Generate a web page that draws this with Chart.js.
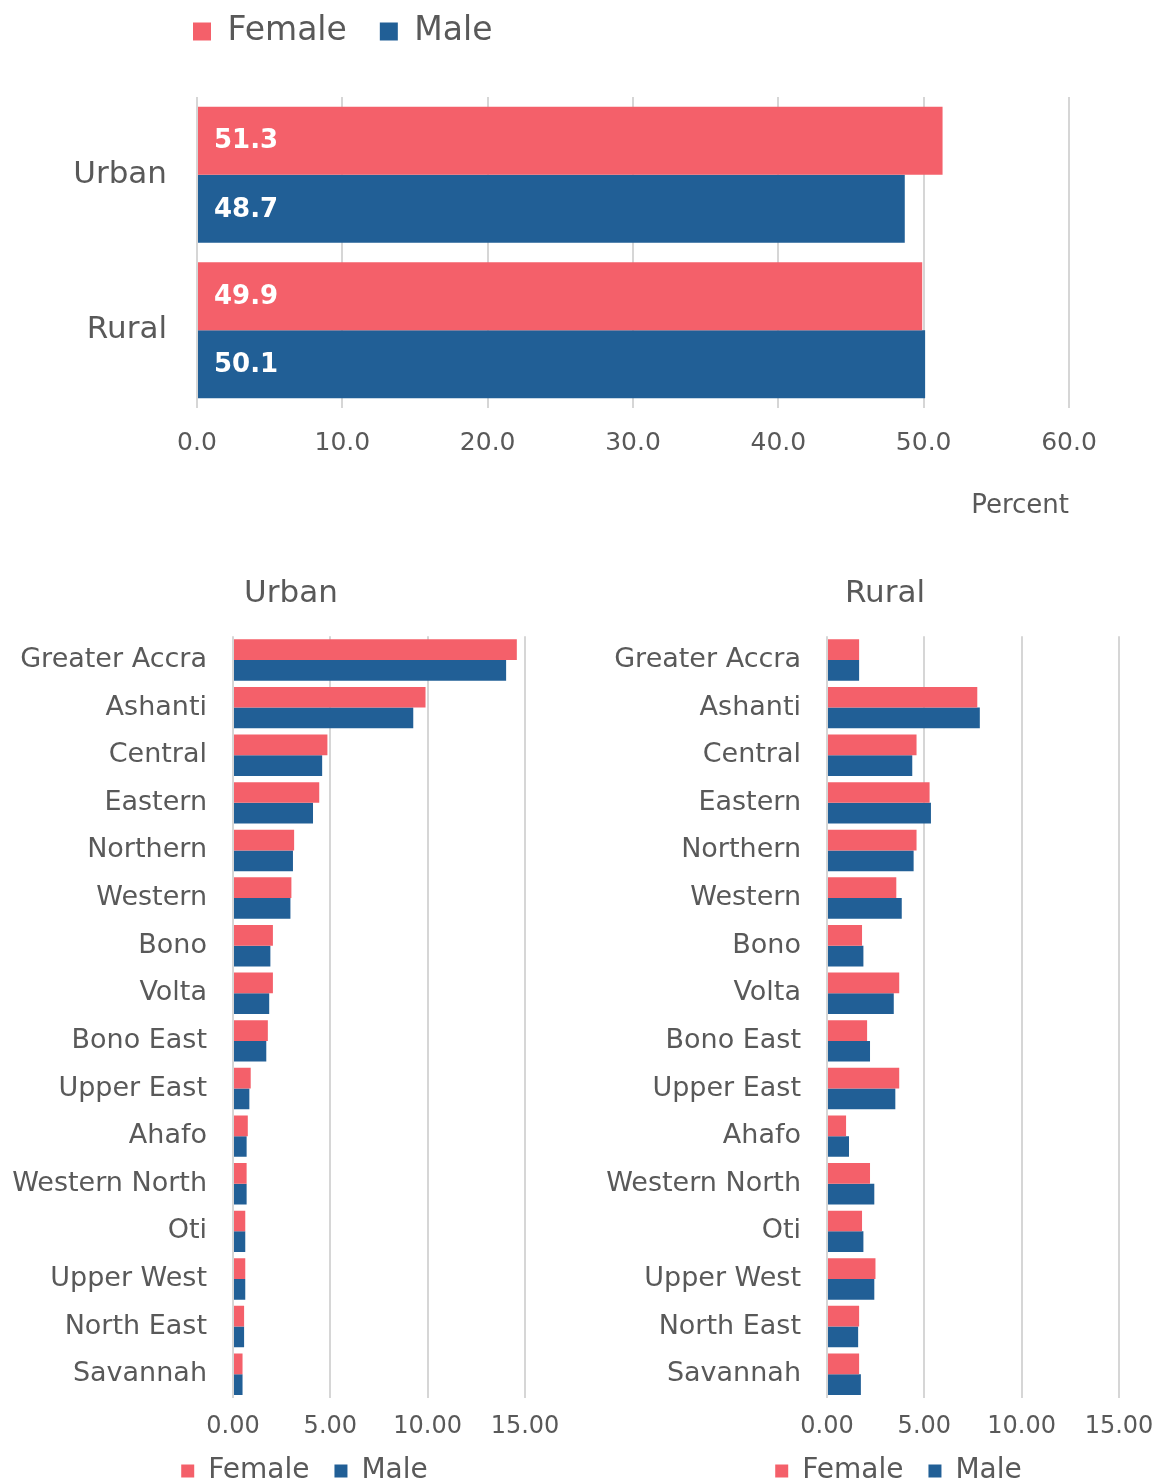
<!DOCTYPE html>
<html>
<head>
<meta charset="utf-8">
<script src="https://cdn.jsdelivr.net/npm/chart.js@4/dist/chart.umd.min.js"></script>
<style>
  body { margin: 0; background: #fff; overflow: hidden; }
  .box { position: absolute; }
</style>
</head>
<body>
<div class="box" style="left:0;top:0;width:1156px;height:540px"><canvas id="topChart"></canvas></div>
<div class="box" style="left:0;top:560px;width:580px;height:953px"><canvas id="urbanChart"></canvas></div>
<div class="box" style="left:594px;top:560px;width:580px;height:953px"><canvas id="ruralChart"></canvas></div>
<script>
// data
const topCategories = ['Urban', 'Rural'];
const topFemale = [51.3, 49.9];
const topMale = [48.7, 50.1];

const regions = ['Greater Accra', 'Ashanti', 'Central', 'Eastern', 'Northern', 'Western', 'Bono', 'Volta',
  'Bono East', 'Upper East', 'Ahafo', 'Western North', 'Oti', 'Upper West', 'North East', 'Savannah'];
const urbanFemale = [14.58, 9.89, 4.85, 4.43, 3.14, 3.00, 2.05, 2.05, 1.79, 0.91, 0.76, 0.70, 0.63, 0.63, 0.57, 0.49];
const urbanMale = [14.03, 9.26, 4.58, 4.11, 3.08, 2.95, 1.92, 1.86, 1.71, 0.84, 0.70, 0.70, 0.63, 0.63, 0.57, 0.49];
const ruralFemale = [1.65, 7.72, 4.60, 5.27, 4.60, 3.56, 1.80, 3.71, 2.06, 3.71, 0.98, 2.21, 1.80, 2.49, 1.65, 1.65];
const ruralMale = [1.65, 7.85, 4.38, 5.34, 4.45, 3.84, 1.87, 3.43, 2.21, 3.51, 1.13, 2.43, 1.87, 2.43, 1.60, 1.74];

const FEMALE = '#f4606a';
const MALE = '#215f96';
const GRID = '#d6d6d6';
const TEXT = '#595959';

Chart.defaults.font.family = "'DejaVu Sans', sans-serif";
Chart.defaults.color = TEXT;
Chart.defaults.animation = false;

// move legend / title boxes where the original has them
const boxShift = {
  id: 'boxShift',
  afterLayout(chart, args, opts) {
    if (!opts) return;
    [['legend', chart.legend], ['title', chart.titleBlock]].forEach(([key, b]) => {
      const o = opts[key];
      if (!o || !b) return;
      const h = b.bottom - b.top;
      if (o.left !== undefined) { b.left = o.left; b.right = o.right; }
      if (o.top !== undefined) { b.top = o.top; b.bottom = o.top + h; }
    });
  }
};

// white values inside the top bars
const barValueLabels = {
  id: 'barValueLabels',
  afterDatasetsDraw(chart) {
    const ctx = chart.ctx;
    ctx.save();
    ctx.font = "bold 26px 'DejaVu Sans', sans-serif";
    ctx.fillStyle = '#ffffff';
    ctx.textAlign = 'left';
    ctx.textBaseline = 'middle';
    chart.data.datasets.forEach((ds, i) => {
      chart.getDatasetMeta(i).data.forEach((bar, j) => {
        ctx.fillText(ds.data[j].toFixed(1), bar.base + 16, bar.y + 1);
      });
    });
    ctx.restore();
  }
};

new Chart(document.getElementById('topChart'), {
  type: 'bar',
  data: {
    labels: topCategories,
    datasets: [
      { label: 'Female', data: topFemale, backgroundColor: FEMALE },
      { label: 'Male', data: topMale, backgroundColor: MALE }
    ]
  },
  plugins: [boxShift, barValueLabels],
  options: {
    indexAxis: 'y',
    responsive: true,
    maintainAspectRatio: false,
    layout: { padding: { top: 21, right: 87, left: 0, bottom: 0 } },
    datasets: { bar: { categoryPercentage: 0.875, barPercentage: 1.0 } },
    plugins: {
      boxShift: { legend: { left: 160, right: 700, top: -18 } },
      legend: {
        position: 'top',
        align: 'start',
        labels: { boxWidth: 18, boxHeight: 18, padding: 33, font: { size: 33 }, color: TEXT }
      },
      tooltip: { enabled: false }
    },
    scales: {
      x: {
        min: 0, max: 60,
        ticks: { stepSize: 10, padding: 20, font: { size: 25 }, callback: v => v.toFixed(1) },
        grid: { color: GRID, lineWidth: 2, drawTicks: false },
        border: { display: false },
        title: { display: true, text: 'Percent', align: 'end', font: { size: 26 }, padding: { top: 0, bottom: 18 } },
        afterFit: s => { s.height = 132; }
      },
      y: {
        ticks: { padding: 22, font: { size: 31 } },
        grid: { display: false },
        border: { display: false },
        afterFit: s => { s.width = 197; }
      }
    }
  }
});

function regionChart(id, title, female, male) {
  return new Chart(document.getElementById(id), {
    type: 'bar',
    data: {
      labels: regions,
      datasets: [
        { label: 'Female', data: female, backgroundColor: FEMALE },
        { label: 'Male', data: male, backgroundColor: MALE }
      ]
    },
    plugins: [boxShift],
    options: {
      indexAxis: 'y',
      responsive: true,
      maintainAspectRatio: false,
      layout: { padding: { top: 0, right: 55, left: 0, bottom: 0 } },
      datasets: { bar: { categoryPercentage: 0.87, barPercentage: 1.0 } },
      plugins: {
        boxShift: {
          title: { left: 0, right: 582 },
          legend: { left: 20, right: 589, top: 872 }
        },
        title: { display: true, text: title, font: { size: 31, weight: 'normal' }, color: TEXT, padding: { top: 15, bottom: 24 } },
        legend: {
          position: 'bottom',
          labels: { boxWidth: 13, boxHeight: 13, padding: 25, font: { size: 28 }, color: TEXT }
        },
        tooltip: { enabled: false }
      },
      scales: {
        x: {
          min: 0, max: 15,
          ticks: { stepSize: 5, padding: 14, font: { size: 24 }, callback: v => v.toFixed(2) },
          grid: { color: GRID, lineWidth: 2, drawTicks: false },
          border: { display: false },
          afterFit: s => { s.height = 52; }
        },
        y: {
          ticks: { padding: 18, font: { size: 27 }, autoSkip: false },
          grid: { display: false },
          border: { display: false },
          afterFit: s => { s.width = 233; }
        }
      }
    }
  });
}

regionChart('urbanChart', 'Urban', urbanFemale, urbanMale);
regionChart('ruralChart', 'Rural', ruralFemale, ruralMale);
</script>
</body>
</html>
